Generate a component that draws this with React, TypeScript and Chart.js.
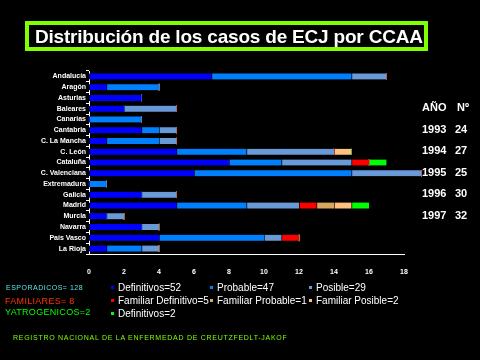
import React, { useEffect, useRef } from "react";
import { Chart, registerables } from "chart.js";

Chart.register(...registerables);

const categories = [
  "Andalucía", "Aragón", "Asturias", "Baleares", "Canarias", "Cantabria",
  "C. La Mancha", "C. León", "Cataluña", "C. Valenciana", "Extremadura",
  "Galicia", "Madrid", "Murcia", "Navarra", "País Vasco", "La Rioja",
];
const definitivos = [7, 1, 3, 2, 0, 3, 1, 5, 8, 6, 0, 3, 5, 1, 3, 4, 1];
const probable = [8, 3, 0, 0, 3, 1, 3, 4, 3, 9, 1, 0, 4, 0, 0, 6, 2];
const posible = [2, 0, 0, 3, 0, 1, 1, 5, 4, 4, 0, 2, 3, 1, 1, 1, 1];
const familiarDefinitivo = [0, 0, 0, 0, 0, 0, 0, 0, 1, 0, 0, 0, 1, 0, 0, 1, 0];
const familiarProbable = [0, 0, 0, 0, 0, 0, 0, 0, 0, 0, 0, 0, 1, 0, 0, 0, 0];
const familiarPosible = [0, 0, 0, 0, 0, 0, 0, 1, 0, 0, 0, 0, 1, 0, 0, 0, 0];
const yatrogenicos = [0, 0, 0, 0, 0, 0, 0, 0, 1, 0, 0, 0, 1, 0, 0, 0, 0];

const years = ["1993", "1994", "1995", "1996", "1997"];
const yearCounts = ["24", "27", "25", "30", "32"];

const seriesNames = [
  "Definitivos=52", "Probable=47", "Posible=29",
  "Familiar Definitivo=5", "Familiar Probable=1", "Familiar Posible=2",
  "Definitivos=2",
];
const seriesColors = [
  "#0000FF", "#0080FF", "#6A99D8", "#FF0000", "#DAA75E", "#FFC080", "#00FF00",
];

const FONT = "Arial, 'Liberation Sans', sans-serif";

function Txt(props: { x: number; y: number; size: number; color: string; bold?: boolean; ls?: number; children: React.ReactNode }) {
  const lh = Math.round(props.size * 1.3);
  return (
    <div
      style={{
        position: "absolute",
        left: props.x,
        top: props.y - lh / 2,
        lineHeight: lh + "px",
        fontSize: props.size,
        fontFamily: FONT,
        fontWeight: props.bold ? "bold" : "normal",
        color: props.color,
        letterSpacing: props.ls ? props.ls + "px" : undefined,
        whiteSpace: "nowrap",
      }}
    >
      {props.children}
    </div>
  );
}

export default function App() {
  const ref = useRef<HTMLCanvasElement | null>(null);

  useEffect(() => {
    if (!ref.current) return;
    const data = [definitivos, probable, posible, familiarDefinitivo, familiarProbable, familiarPosible, yatrogenicos];
    const chart = new Chart(ref.current, {
      type: "bar",
      data: {
        labels: categories,
        datasets: data.map((d, i) => ({
          label: seriesNames[i],
          data: d,
          backgroundColor: seriesColors[i],
          borderColor: "#000000",
          borderWidth: { left: 1, right: 0, top: 0, bottom: 0 },
          borderSkipped: false,
          barThickness: 6,
          clip: false as any,
        })),
      },
      options: {
        indexAxis: "y",
        responsive: false,
        animation: false,
        layout: { padding: { left: 0, right: 76, top: 71, bottom: 86 } },
        plugins: { legend: { display: false }, tooltip: { enabled: false } },
        scales: {
          x: {
            stacked: true,
            min: 0,
            max: 18,
            ticks: {
              stepSize: 2,
              color: "#FFFFFF",
              padding: 6,
              font: { family: FONT, size: 7, weight: "bold" },
            },
            grid: { display: false },
            border: { display: true, color: "#FFFFFF", width: 1 },
            afterFit: (s: any) => { s.height = 20; },
          },
          y: {
            stacked: true,
            ticks: {
              color: "#FFFFFF",
              padding: 0,
              autoSkip: false,
              font: { family: FONT, size: 7, weight: "bold" },
            },
            grid: { display: true, drawOnChartArea: false, tickLength: 3, color: "#FFFFFF" },
            border: { display: true, color: "#FFFFFF", width: 1 },
            afterFit: (s: any) => { s.width = 89; },
          },
        },
      },
    });
    return () => chart.destroy();
  }, []);

  return (
    <div style={{ position: "fixed", left: 0, top: 0, width: 480, height: 360, background: "#000000", overflow: "hidden" }}>
      <canvas ref={ref} width={480} height={360} style={{ position: "absolute", left: 0, top: 0, width: 480, height: 360 }} />
      <div
        style={{
          position: "absolute", left: 25, top: 21, width: 395, height: 22,
          border: "4px solid #80FF00",
        }}
      />
      <Txt x={35} y={36} size={19} color="#FFFFFF" bold ls={-0.2}>Distribución de los casos de ECJ por CCAA</Txt>

      <Txt x={422} y={107} size={11} color="#FFFFFF" bold>AÑO</Txt>
      <Txt x={457} y={107} size={11} color="#FFFFFF" bold>Nº</Txt>
      {years.map((yr, i) => (
        <React.Fragment key={yr}>
          <Txt x={422} y={128.5 + i * 21.6} size={11} color="#FFFFFF" bold>{yr}</Txt>
          <Txt x={455} y={128.5 + i * 21.6} size={11} color="#FFFFFF" bold>{yearCounts[i]}</Txt>
        </React.Fragment>
      ))}

      <Txt x={6} y={287} size={7} color="#5FE6E6" ls={0.5}>ESPORADICOS= 128</Txt>
      <Txt x={5} y={301} size={9} color="#FF3300" ls={0.3}>FAMILIARES= 8</Txt>
      <Txt x={5} y={312} size={9} color="#00FF00" ls={0.3}>YATROGENICOS=2</Txt>

      {seriesNames.map((name, i) => {
        const col = i === 6 ? 0 : i % 3;
        const row = i === 6 ? 2 : Math.floor(i / 3);
        const mx = [111, 210, 309][col];
        const ty = 287 + row * 13;
        return (
          <React.Fragment key={i}>
            <div style={{ position: "absolute", left: mx, top: ty - 1.5, width: 3, height: 3, background: seriesColors[i] }} />
            <Txt x={mx + 7} y={ty} size={10} color="#FFFFFF">{name}</Txt>
          </React.Fragment>
        );
      })}

      <Txt x={13} y={337.5} size={7} color="#80FF00" ls={0.72}>REGISTRO NACIONAL DE LA ENFERMEDAD DE CREUTZFEDLT-JAKOF</Txt>
    </div>
  );
}
